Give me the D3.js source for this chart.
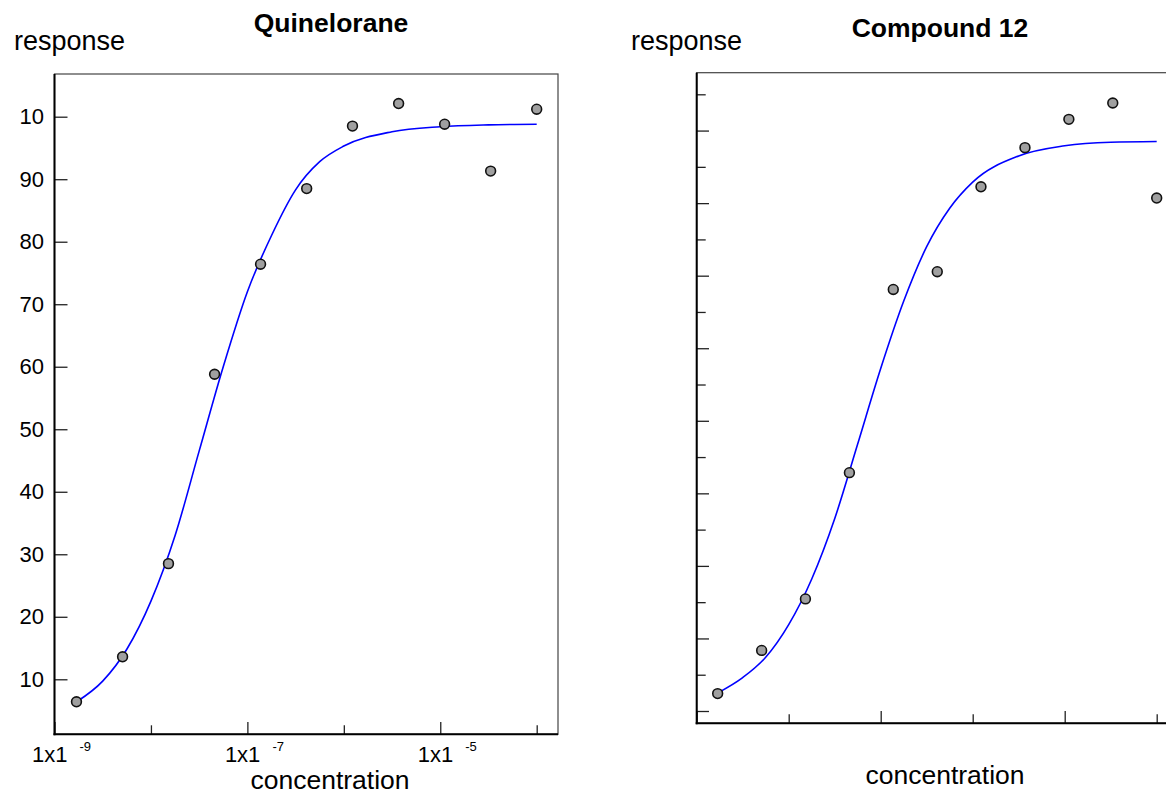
<!DOCTYPE html>
<html>
<head>
<meta charset="utf-8">
<script src="https://cdn.jsdelivr.net/npm/d3@7"></script>
<style>
  html, body { margin: 0; padding: 0; background: #fff; }
  svg { display: block; font-family: "Liberation Sans", Arial, sans-serif; }
</style>
</head>
<body>
<svg id="chart" width="1166" height="795"></svg>
<script>
// ---- data ----
const concentrations = [1.69e-9, 5.08e-9, 1.52e-8, 4.57e-8, 1.37e-7, 4.12e-7, 1.23e-6, 3.70e-6, 1.11e-5, 3.33e-5, 1.0e-4];
const quineloraneResponse = [6.4, 13.6, 28.5, 58.8, 76.4, 88.5, 98.5, 102.1, 98.8, 91.3, 101.2];
const compound12Response = [2.4, 8.35, 15.45, 32.85, 58.1, 60.55, 72.25, 77.65, 81.55, 83.8, 70.7];

const curveConc = [1.7e-9, 3.16e-9, 5.62e-9, 1e-8, 1.78e-8, 3.16e-8, 5.62e-8, 1e-7, 1.78e-7, 3.16e-7, 5.62e-7, 1e-6, 3.16e-6, 1e-5, 3.16e-5, 1e-4];
const quineloraneFit = [6.4, 9.7, 14.8, 22.5, 33.0, 46.5, 60.0, 72.0, 81.0, 88.3, 92.8, 95.3, 97.6, 98.4, 98.7, 98.8];
const compound12Fit = [2.5, 4.6, 7.4, 11.9, 18.2, 26.5, 36.8, 47.2, 56.5, 64.0, 69.3, 72.9, 76.5, 77.9, 78.4, 78.5];

const yTicksLeft = [10, 20, 30, 40, 50, 60, 70, 80, 90, 100];
const yTickLabelsLeft = ["10", "20", "30", "40", "50", "60", "70", "80", "90", "10"];
const xLongTicks = [1e-9, 1e-7, 1e-5];
const xShortTicks = [1e-8, 1e-6, 1e-4];
const xTickBase = ["1x1", "1x1", "1x1"];
const xTickExp = ["-9", "-7", "-5"];
const yLongTicksRight = [0, 10, 20, 30, 40, 50, 60, 70, 80];
const yShortTicksRight = [5, 15, 25, 35, 45, 55, 65, 75, 85];

const titles = ["Quinelorane", "Compound 12"];

// ---- drawing ----
const svg = d3.select("#chart");
svg.append("rect").attr("width", 1166).attr("height", 795).attr("fill", "#fff");

function styleAxis(g) {
  g.select(".domain").remove();
  g.selectAll(".tick line").attr("stroke", "#222").attr("stroke-width", 1.3);
  g.selectAll(".tick text").attr("fill", "#000").attr("font-size", 22)
    .attr("font-family", "'Liberation Sans', Arial, sans-serif");
}

function panel(opt) {
  const g = svg.append("g");
  const x = d3.scaleLog().domain([1e-9, 1e-4]).range(opt.xRange);
  const y = d3.scaleLinear().domain(opt.yDomain).range(opt.yRange);

  // frame
  g.append("rect")
    .attr("x", opt.left).attr("y", opt.top)
    .attr("width", opt.right - opt.left).attr("height", opt.bottom - opt.top)
    .attr("fill", "none").attr("stroke", "#444").attr("stroke-width", 1.2);

  // y ticks
  if (opt.yLabels) {
    g.append("g").attr("transform", `translate(${opt.left},0)`)
      .call(d3.axisLeft(y).tickValues(opt.yTicks)
        .tickFormat((d, i) => opt.yLabels[i]).tickSize(-13).tickPadding(10.5))
      .call(styleAxis);
  } else {
    g.append("g").attr("transform", `translate(${opt.left},0)`)
      .call(d3.axisLeft(y).tickValues(opt.yLongTicks).tickFormat("").tickSize(-12.3))
      .call(styleAxis);
    g.append("g").attr("transform", `translate(${opt.left},0)`)
      .call(d3.axisLeft(y).tickValues(opt.yShortTicks).tickFormat("").tickSize(-9))
      .call(styleAxis);
  }

  // x ticks
  g.append("g").attr("transform", `translate(0,${opt.bottom})`)
    .call(d3.axisBottom(x).tickValues(xLongTicks).tickFormat("").tickSize(-12.3))
    .call(styleAxis);
  g.append("g").attr("transform", `translate(0,${opt.bottom})`)
    .call(d3.axisBottom(x).tickValues(xShortTicks).tickFormat("").tickSize(-9))
    .call(styleAxis);

  if (opt.xLabels) {
    xLongTicks.forEach((v, i) => {
      g.append("text").attr("x", x(v) - 22.5).attr("y", opt.bottom + 28)
        .attr("font-size", 22).attr("fill", "#000").text(xTickBase[i]);
      g.append("text").attr("x", x(v) + 25).attr("y", opt.bottom + 16.5)
        .attr("font-size", 13).attr("fill", "#000").text(xTickExp[i]);
    });
  }

  // axis lines (left + bottom, heavier)
  g.append("line").attr("x1", opt.left).attr("x2", opt.left)
    .attr("y1", opt.top).attr("y2", opt.bottom + 1)
    .attr("stroke", "#000").attr("stroke-width", 2);
  g.append("line").attr("x1", opt.left - 1).attr("x2", opt.right)
    .attr("y1", opt.bottom).attr("y2", opt.bottom)
    .attr("stroke", "#000").attr("stroke-width", 2);

  // fitted curve
  const line = d3.line()
    .x((d, i) => x(curveConc[i]))
    .y(d => y(d))
    .curve(d3.curveMonotoneX);
  g.append("path").datum(opt.fit)
    .attr("d", line).attr("fill", "none")
    .attr("stroke", "#0000ff").attr("stroke-width", 1.6);

  // points
  g.selectAll("circle.pt").data(opt.values).enter().append("circle")
    .attr("class", "pt")
    .attr("cx", (d, i) => x(concentrations[i]))
    .attr("cy", d => y(d))
    .attr("r", 4.9)
    .attr("fill", "#a0a0a0").attr("stroke", "#111").attr("stroke-width", 1.6);

  // texts
  g.append("text").attr("x", opt.titleX).attr("y", opt.titleY)
    .attr("text-anchor", "middle").attr("font-weight", "bold")
    .attr("font-size", 26.5).attr("fill", "#000").text(opt.title);
  g.append("text").attr("x", opt.respX).attr("y", opt.respY)
    .attr("font-size", 27).attr("fill", "#000").text("response");
  g.append("text").attr("x", opt.concX).attr("y", opt.concY)
    .attr("text-anchor", "middle")
    .attr("font-size", 26.5).attr("fill", "#000").text("concentration");
}

panel({
  left: 54.5, right: 558, top: 74, bottom: 734.3,
  xRange: [54.5, 536.7],
  yDomain: [0, 100], yRange: [741.8, 116.7],
  yTicks: yTicksLeft, yLabels: yTickLabelsLeft,
  xLabels: true,
  values: quineloraneResponse, fit: quineloraneFit,
  title: titles[0], titleX: 331, titleY: 32,
  respX: 14, respY: 50,
  concX: 330, concY: 789
});

panel({
  left: 696.7, right: 1200, top: 72.7, bottom: 723.3,
  xRange: [696.7, 1156.7],
  yDomain: [0, 85], yRange: [711, 94.3],
  yLongTicks: yLongTicksRight, yShortTicks: yShortTicksRight,
  xLabels: false,
  values: compound12Response, fit: compound12Fit,
  title: titles[1], titleX: 940, titleY: 37,
  respX: 631, respY: 50,
  concX: 945, concY: 784
});
</script>
</body>
</html>
